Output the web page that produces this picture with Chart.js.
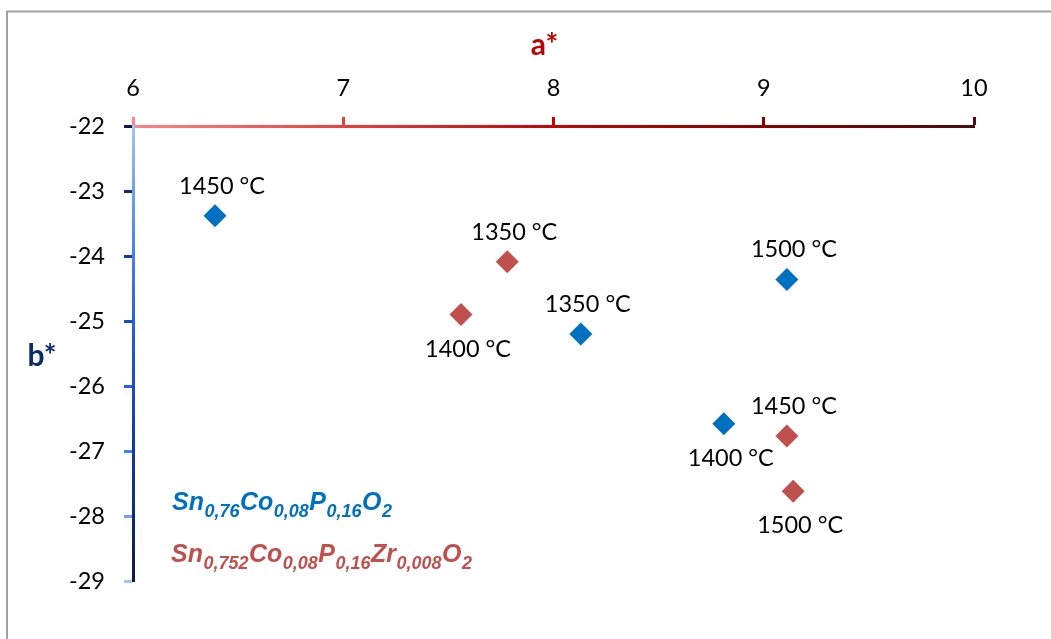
<!DOCTYPE html>
<html>
<head>
<meta charset="utf-8">
<title>a* / b*</title>
<script src="https://cdn.jsdelivr.net/npm/chart.js@4/dist/chart.umd.min.js"></script>
<style>
  html, body { margin: 0; padding: 0; background: #fff; }
  #wrap { position: relative; width: 1051px; height: 639px; overflow: hidden; }
  canvas { display: block; }
</style>
</head>
<body>
<div id="wrap"><canvas id="c" width="1051" height="639"></canvas></div>
<script>
// Colour coordinates (a*, b*) per firing temperature
const temps1 = ['1450 °C', '1350 °C', '1500 °C', '1400 °C'];
const aStar1 = [6.39, 8.13, 9.11, 8.81];
const bStar1 = [-23.38, -25.20, -24.36, -26.58];

const temps2 = ['1350 °C', '1400 °C', '1450 °C', '1500 °C'];
const aStar2 = [7.78, 7.56, 9.11, 9.14];
const bStar2 = [-24.09, -24.90, -26.77, -27.62];

// Axis ranges and ticks
const xTicks = [6, 7, 8, 9, 10];
const yTicks = [-29, -28, -27, -26, -25, -24, -23, -22];

// Series names as [text, isSubscript] runs
const name1 = [['Sn', 0], ['0,76', 1], ['Co', 0], ['0,08', 1], ['P', 0], ['0,16', 1], ['O', 0], ['2', 1]];
const name2 = [['Sn', 0], ['0,752', 1], ['Co', 0], ['0,08', 1], ['P', 0], ['0,16', 1], ['Zr', 0], ['0,008', 1], ['O', 0], ['2', 1]];

// Which side of each marker its temperature label sits on
const side1 = ['above', 'above', 'above', 'below'];
const side2 = ['above', 'below', 'above', 'below'];

const BLUE = '#0070c0';
const RED = '#c0504d';
const LABEL_FONT = "23.5px Lato, 'Open Sans', sans-serif";

function toPoints(xs, ys) { return xs.map((x, i) => ({ x: x, y: ys[i] })); }

function xGradient(chart) {
  const a = chart.chartArea;
  if (!a) return '#c00000';
  const g = chart.ctx.createLinearGradient(a.left, 0, a.right, 0);
  g.addColorStop(0, '#ff8585');
  g.addColorStop(0.3, '#e63232');
  g.addColorStop(0.5, '#c40404');
  g.addColorStop(0.75, '#8c0000');
  g.addColorStop(1, '#4a0c0c');
  return g;
}
function yGradient(chart, reversed) {
  const a = chart.chartArea;
  if (!a) return '#1a50d8';
  const g = chart.ctx.createLinearGradient(0, a.top, 0, a.bottom);
  const stops = [[0, '#a3c1f7'], [0.25, '#4f86f0'], [0.45, '#1f5ce2'], [0.72, '#1238a4'], [1, '#0b1a4f']];
  stops.forEach(([p, c]) => g.addColorStop(reversed ? 1 - p : p, c));
  return g;
}

// Temperature labels beside each marker
const pointLabels = {
  id: 'pointLabels',
  afterDatasetsDraw(chart) {
    const ctx = chart.ctx;
    ctx.save();
    ctx.font = LABEL_FONT;
    ctx.fillStyle = '#000';
    ctx.textAlign = 'center';
    ctx.textBaseline = 'alphabetic';
    chart.data.datasets.forEach((ds, di) => {
      chart.getDatasetMeta(di).data.forEach((el, i) => {
        const above = ds.labelSide[i] === 'above';
        ctx.fillText(ds.tempLabels[i], el.x + 7, above ? el.y - 22 : el.y + 42);
      });
    });
    ctx.restore();
  }
};

// Axis titles, series names with subscripts, and the outer frame
const decorations = {
  id: 'decorations',
  beforeDraw(chart) {
    const ctx = chart.ctx;
    ctx.save();
    ctx.strokeStyle = '#a0a0a0';
    ctx.lineWidth = 2;
    ctx.beginPath();
    ctx.moveTo(7, 700);
    ctx.lineTo(7, 11.5);
    ctx.lineTo(1100, 11.5);
    ctx.stroke();
    ctx.restore();
  },
  afterDraw(chart) {
    const ctx = chart.ctx;
    const a = chart.chartArea;
    ctx.save();
    ctx.textBaseline = 'alphabetic';
    ctx.font = "bold 30px Lato, 'Open Sans', sans-serif";
    ctx.textAlign = 'center';
    ctx.fillStyle = '#c00000';
    ctx.fillText('a*', (a.left + a.right) / 2 - 9, 55);
    ctx.fillStyle = '#0c2a66';
    ctx.fillText('b*', 42, 366);

    const drawRich = (runs, x, y, color) => {
      ctx.fillStyle = color;
      ctx.textAlign = 'left';
      runs.forEach(([t, sub]) => {
        ctx.font = sub ? "italic bold 18px 'Liberation Sans', Arial, sans-serif"
                       : "italic bold 25px 'Liberation Sans', Arial, sans-serif";
        ctx.fillText(t, x, sub ? y + 7 : y);
        x += ctx.measureText(t).width + (sub ? 0.5 : 0.5);
      });
    };
    drawRich(name1, 172, 510, BLUE);
    drawRich(name2, 171, 562, RED);
    ctx.restore();
  }
};

new Chart(document.getElementById('c'), {
  type: 'scatter',
  data: {
    datasets: [
      {
        label: 'Sn0,76Co0,08P0,16O2',
        data: toPoints(aStar1, bStar1),
        tempLabels: temps1,
        labelSide: side1,
        backgroundColor: BLUE,
        borderColor: BLUE,
        borderWidth: 0,
        pointStyle: 'rectRot',
        pointRadius: 11.5,
        pointHoverRadius: 11.5
      },
      {
        label: 'Sn0,752Co0,08P0,16Zr0,008O2',
        data: toPoints(aStar2, bStar2),
        tempLabels: temps2,
        labelSide: side2,
        backgroundColor: RED,
        borderColor: RED,
        borderWidth: 0,
        pointStyle: 'rectRot',
        pointRadius: 11.5,
        pointHoverRadius: 11.5
      }
    ]
  },
  options: {
    responsive: false,
    animation: false,
    devicePixelRatio: 1,
    layout: { padding: { left: 0, top: 0, right: 77, bottom: 58 } },
    plugins: {
      legend: { display: false },
      tooltip: { enabled: false }
    },
    scales: {
      x: {
        type: 'linear',
        position: 'top',
        min: xTicks[0],
        max: xTicks[xTicks.length - 1],
        afterBuildTicks: (s) => { s.ticks = xTicks.map(v => ({ value: v })); },
        afterFit: (s) => { s.height = 126; },
        ticks: {
          font: { family: "Lato, 'Open Sans', sans-serif", size: 23.5 },
          color: '#000',
          padding: 14,
          maxRotation: 0
        },
        grid: {
          drawOnChartArea: false,
          drawTicks: true,
          tickLength: 9,
          tickWidth: 3,
          tickColor: (c) => xGradient(c.chart)
        },
        border: {
          display: true,
          width: 3,
          color: (c) => xGradient(c.chart)
        }
      },
      y: {
        type: 'linear',
        position: 'left',
        min: yTicks[0],
        max: yTicks[yTicks.length - 1],
        afterBuildTicks: (s) => { s.ticks = yTicks.map(v => ({ value: v })); },
        afterFit: (s) => { s.width = 133; },
        ticks: {
          font: { family: "Lato, 'Open Sans', sans-serif", size: 23.5 },
          color: '#000',
          padding: 19
        },
        grid: {
          drawOnChartArea: false,
          drawTicks: true,
          tickLength: 9,
          tickWidth: 3,
          tickColor: (c) => yGradient(c.chart, true)
        },
        border: {
          display: true,
          width: 3,
          color: (c) => yGradient(c.chart, false)
        }
      }
    }
  },
  plugins: [decorations, pointLabels]
});
</script>
</body>
</html>
